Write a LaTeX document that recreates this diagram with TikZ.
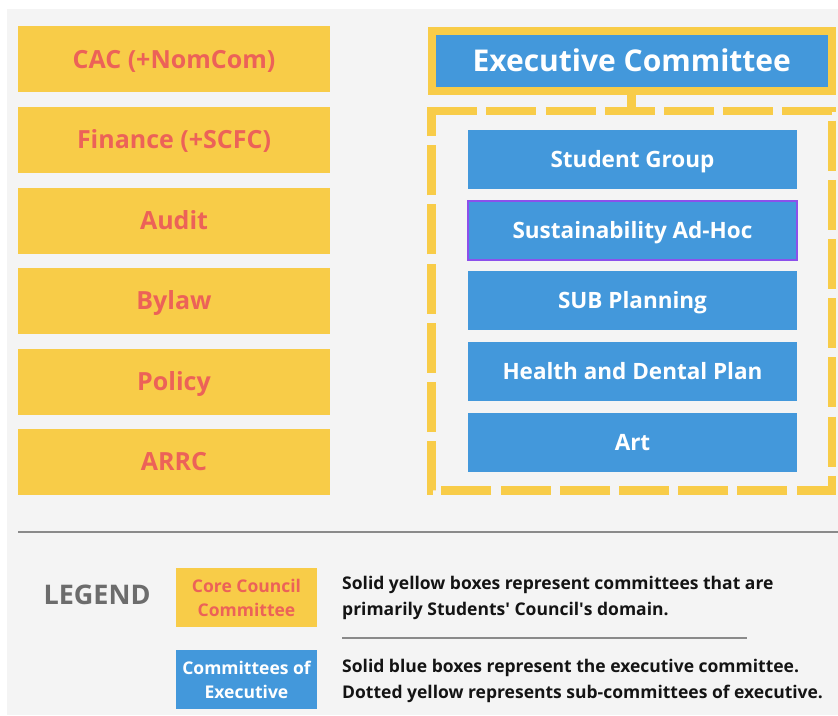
\documentclass[tikz,border=0pt]{standalone}
\usepackage{fontspec}
\setmainfont{Open Sans}
\usepackage{tikz}
\usetikzlibrary{positioning}
\definecolor{cYel}{RGB}{248,204,72}
\definecolor{cRed}{RGB}{236,98,88}
\definecolor{cBlue}{RGB}{67,152,219}
\definecolor{cPurp}{RGB}{140,80,235}
\definecolor{cBg}{RGB}{244,244,244}
\definecolor{cRule}{RGB}{138,138,138}
\definecolor{cLeg}{RGB}{108,108,108}
\definecolor{ink}{RGB}{20,20,20}

\begin{document}
\begin{tikzpicture}[
  x=1pt, y=-1pt,
  core/.style={fill=cYel, text=cRed, minimum width=312pt, minimum height=66pt, inner sep=0pt, text height=18pt, text depth=0pt, font=\fontsize{25}{30}\selectfont\bfseries},
  sub/.style={fill=cBlue, text=white, minimum width=329pt, minimum height=59pt, inner sep=0pt, text height=16pt, text depth=0pt, font=\fontsize{22.5}{27}\selectfont\bfseries},
  legbox/.style={minimum width=141pt, minimum height=59pt, inner sep=0pt, align=center, font=\fontsize{17.5}{24}\selectfont\bfseries},
  desc/.style={anchor=west, align=left, inner sep=0pt, text=ink, font=\fontsize{17.5}{25.5}\selectfont\bfseries},
  rule/.style={draw=cRule, line width=1.6pt},
  frame/.style={draw=cYel, line width=8.5pt, dash pattern=on 50pt off 9.2pt}
]
\useasboundingbox (0,0) rectangle (838,715);
\fill[white] (0,0) rectangle (838,715);
\fill[cBg] (7,9) rectangle (838,715);

% ---------------- CORE COUNCIL COMMITTEES ----------------
\node (cac)     at (174,59)    [core] {CAC (+NomCom)};
\node (finance) at (174,139.5) [core] {Finance (+SCFC)};
\node (audit)   at (174,220.5) [core] {Audit};
\node (bylaw)   at (174,300.5) [core] {Bylaw};
\node (policy)  at (174,381.5) [core] {Policy};
\node (arrc)    at (174,461.5) [core] {ARRC};

% ---------------- EXECUTIVE ----------------
\node (exec) at (631.75,60.75) [fill=cBlue, draw=cYel, line width=8.5pt, text=white, minimum width=400pt, minimum height=60pt, inner sep=0pt, text height=21pt, text depth=0pt, font=\fontsize{30}{34}\selectfont\bfseries] {Executive Committee};
\node (subs) at (631.75,300.75) [minimum width=400.5pt, minimum height=379.5pt, inner sep=0pt, outer sep=0pt] {};
\coordinate (fstart) at (427.25,111);
\draw[frame] (fstart) -- (subs.north east) -- (subs.south east) -- (subs.south west) -- (subs.north west);
\draw[cYel, line width=9pt] (exec.south) -- (subs.north);

\node (student) at (632.5,159)   [sub] {Student Group};
\node (sustain) at (632.5,230)   [sub, draw=cPurp, line width=2pt] {Sustainability Ad-Hoc};
\node (subplan) at (632.5,300.5) [sub] {SUB Planning};
\node (health)  at (632.5,371.5) [sub] {Health and Dental Plan};
\node (art)     at (632.5,442)   [sub] {Art};

% ---------------- LEGEND ----------------
\coordinate (sepL) at (18,532);
\coordinate (sepR) at (838,532);
\draw[rule] (sepL) -- (sepR);

\node (legend) at (97,595) [text=cLeg, font=\fontsize{27}{32}\selectfont\bfseries] {LEGEND};
\node (lCore) at (246.5,597.5) [legbox, fill=cYel, text=cRed] {Core Council\\Committee};
\node (lExec) at (246.5,679.5) [legbox, fill=cBlue, text=white] {Committees of\\Executive};

\node (dCore) at (342,598) [desc] {Solid yellow boxes represent committees that are\\primarily Students\textquotesingle\ Council\textquotesingle s domain.};
\node (dExec) at (342,681) [desc] {Solid blue boxes represent the executive committee.\\Dotted yellow represents sub-committees of executive.};
\coordinate (midL) at (342,638);
\coordinate (midR) at (747,638);
\draw[rule] (midL) -- (midR);

\end{tikzpicture}
\end{document}
